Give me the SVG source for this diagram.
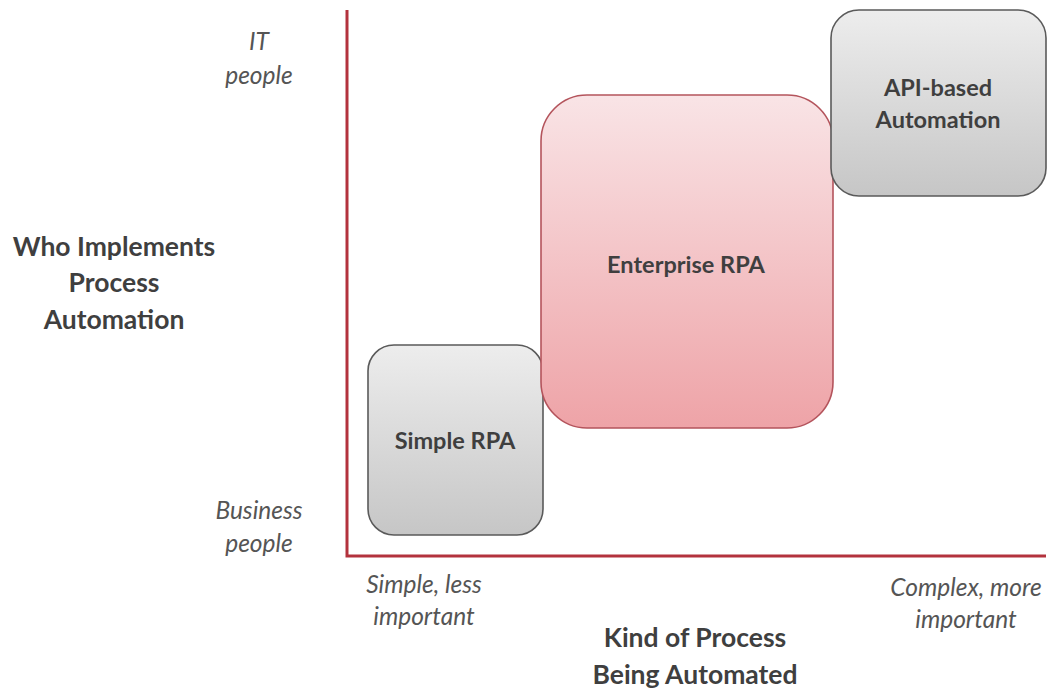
<svg xmlns="http://www.w3.org/2000/svg" width="1052" height="690" viewBox="0 0 1052 690">
  <defs>
    <linearGradient id="grayFill" x1="0" y1="0" x2="0" y2="1">
      <stop offset="0" stop-color="#ededed"/>
      <stop offset="1" stop-color="#c6c6c6"/>
    </linearGradient>
    <linearGradient id="pinkFill" x1="0" y1="0" x2="0" y2="1">
      <stop offset="0" stop-color="#f9e4e6"/>
      <stop offset="1" stop-color="#eea3a7"/>
    </linearGradient>
  </defs>
  <style>
    .gray { fill: url(#grayFill); stroke: #5a5a5a; stroke-width: 1.6; }
    .pink { fill: url(#pinkFill); stroke: #b4545c; stroke-width: 1.6; }
    .box-label { font-family: Lato, "Liberation Sans", sans-serif; font-weight: bold; font-size: 23.5px; fill: #3f3f3f; text-anchor: middle; }
    .axis-title { font-family: Lato, "Liberation Sans", sans-serif; font-weight: bold; font-size: 26.5px; fill: #3f3f3f; text-anchor: middle; }
    .tick { font-family: Lato, "Liberation Sans", sans-serif; font-style: italic; font-size: 24.5px; fill: #555555; text-anchor: middle; }
    .axis { fill: none; stroke: #b3323d; stroke-width: 3; }
  </style>

  <!-- axes -->
  <g id="connectors">
    <path class="axis" d="M347 10 V556 H1046"/>
  </g>

  <!-- axis labels -->
  <g id="y-axis-labels">
    <text class="tick" x="259" y="50">IT</text>
    <text class="tick" x="259" y="84">people</text>
    <text class="tick" x="259" y="519">Business</text>
    <text class="tick" x="259" y="552">people</text>
    <text class="axis-title" x="114" y="256">Who Implements</text>
    <text class="axis-title" x="114" y="292">Process</text>
    <text class="axis-title" x="114" y="329">Automation</text>
  </g>
  <g id="x-axis-labels">
    <text class="tick" x="424" y="593">Simple, less</text>
    <text class="tick" x="424" y="625">important</text>
    <text class="tick" x="966" y="596">Complex, more</text>
    <text class="tick" x="966" y="628">important</text>
    <text class="axis-title" x="695" y="647">Kind of Process</text>
    <text class="axis-title" x="695" y="684">Being Automated</text>
  </g>

  <!-- nodes -->
  <g id="simple-rpa">
    <rect class="gray" x="368" y="345" width="175" height="190" rx="26" ry="26"/>
    <text class="box-label" x="455" y="449">Simple RPA</text>
  </g>
  <g id="enterprise-rpa">
    <rect class="pink" x="541" y="95" width="292" height="333" rx="46" ry="46"/>
    <text class="box-label" x="686" y="273">Enterprise RPA</text>
  </g>
  <g id="api-automation">
    <rect class="gray" x="831" y="10" width="215" height="186" rx="28" ry="28"/>
    <text class="box-label" x="938" y="96">API-based</text>
    <text class="box-label" x="938" y="128">Automation</text>
  </g>
</svg>
